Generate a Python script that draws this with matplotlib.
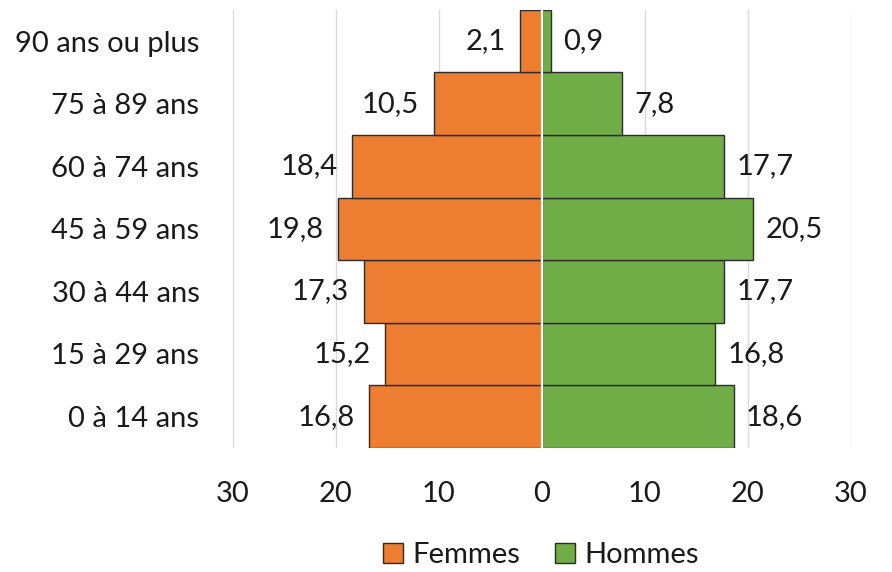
import numpy as np
import matplotlib.pyplot as plt

plt.rcParams['font.family'] = ['Lato', 'DejaVu Sans']

ages = ["0 à 14 ans", "15 à 29 ans", "30 à 44 ans", "45 à 59 ans",
        "60 à 74 ans", "75 à 89 ans", "90 ans ou plus"]
femmes = [16.8, 15.2, 17.3, 19.8, 18.4, 10.5, 2.1]
hommes = [18.6, 16.8, 17.7, 20.5, 17.7, 7.8, 0.9]
xticks = [-30, -20, -10, 0, 10, 20, 30]

fig = plt.figure(figsize=(8.92, 5.72), dpi=100)
ax = fig.add_axes([0.261, 0.217, 0.693, 0.766])

y = np.arange(len(ages))
f = np.array(femmes)
h = np.array(hommes)

ax.barh(y, -f, height=1.0, color='#ED7D31', edgecolor='#2b2b2b', linewidth=1.0,
        label='Femmes', zorder=3)
ax.barh(y, h, height=1.0, color='#70AD47', edgecolor='#2b2b2b', linewidth=1.0,
        label='Hommes', zorder=3)
ax.axvline(0, color='white', lw=1.6, zorder=4)

for yi, v in zip(y, femmes):
    ax.text(-v - 1.4, yi, f"{v:.1f}".replace('.', ','), ha='right', va='center',
            fontsize=21, color='#1a1a1a')
for yi, v in zip(y, hommes):
    ax.text(v + 1.2, yi, f"{v:.1f}".replace('.', ','), ha='left', va='center',
            fontsize=21, color='#1a1a1a')

ax.set_xlim(-30, 30)
ax.set_ylim(-0.5, len(ages) - 0.5)
ax.set_xticks(xticks)
ax.set_xticklabels([str(abs(t)) for t in xticks], fontsize=21, color='#1a1a1a')
ax.set_yticks(y)
ax.set_yticklabels(ages, fontsize=21, color='#1a1a1a')
ax.tick_params(length=0, pad=24, axis='y')
ax.tick_params(length=0, pad=24, axis='x')
ax.grid(axis='x', color='#d9d9d9', lw=1, zorder=0)
for s in ax.spines.values():
    s.set_visible(False)

ax.legend(loc='center', bbox_to_anchor=(0.498, -0.245), ncol=2, frameon=False,
          fontsize=21, handlelength=0.7, handleheight=0.7, handletextpad=0.3,
          columnspacing=1.2, labelcolor='#1a1a1a')

fig.savefig('out.png', dpi=100)
